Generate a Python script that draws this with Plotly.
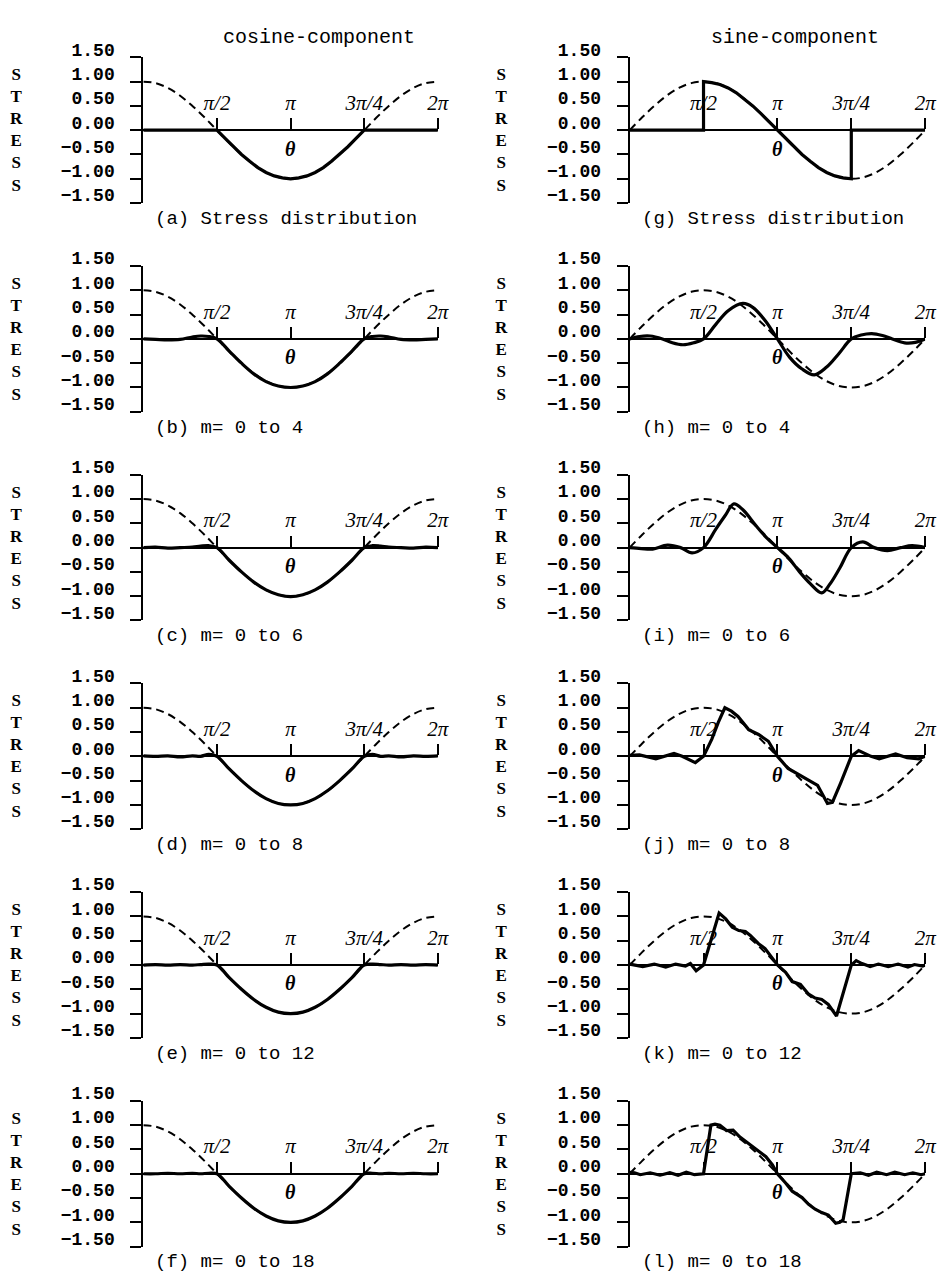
import plotly.graph_objects as go

# ---------------- data ----------------
XTICK_VALS = [90, 180, 270, 360]
XTICK_TEXT = ["π/2", "π", "3π/4", "2π"]
YTICK_VALS = [-1.5, -1.0, -0.5, 0.0, 0.5, 1.0, 1.5]
YTICK_TEXT = ["−1.50", "−1.00", "−0.50", "0.00", "0.50", "1.00", "1.50"]

TITLES = ["cosine-component", "sine-component"]
CAPTIONS_COS = ["(a) Stress distribution", "(b) m= 0 to 4", "(c) m= 0 to 6",
                "(d) m= 0 to 8", "(e) m= 0 to 12", "(f) m= 0 to 18"]
CAPTIONS_SIN = ["(g) Stress distribution", "(h) m= 0 to 4", "(i) m= 0 to 6",
                "(j) m= 0 to 8", "(k) m= 0 to 12", "(l) m= 0 to 18"]

# dashed reference curves (degrees)
THETA_REF = [0, 15, 30, 45, 60, 75, 90, 105, 120, 135, 150, 165, 180,
             195, 210, 225, 240, 255, 270, 285, 300, 315, 330, 345, 360]
COS_REF = [1.00, 0.97, 0.87, 0.71, 0.50, 0.26, 0.00, -0.26, -0.50, -0.71, -0.87, -0.97, -1.00,
           -0.97, -0.87, -0.71, -0.50, -0.26, 0.00, 0.26, 0.50, 0.71, 0.87, 0.97, 1.00]
SIN_REF = [0.00, 0.26, 0.50, 0.71, 0.87, 0.97, 1.00, 0.97, 0.87, 0.71, 0.50, 0.26, 0.00,
           -0.26, -0.50, -0.71, -0.87, -0.97, -1.00, -0.97, -0.87, -0.71, -0.50, -0.26, 0.00]

# cosine component
COS_A_X = [0, 90, 100, 110, 120, 130, 140, 150, 160, 170, 180, 190, 200,
           210, 220, 230, 240, 250, 260, 270, 360]
COS_A_Y = [0.00, 0.00, -0.17, -0.34, -0.50, -0.64, -0.77, -0.87, -0.94, -0.98, -1.00, -0.98, -0.94,
           -0.87, -0.77, -0.64, -0.50, -0.34, -0.17, 0.00, 0.00]

THETA_C = [0, 15, 30, 45, 60, 70, 80, 90, 105, 120, 135, 150, 165, 180,
           195, 210, 225, 240, 255, 270, 280, 290, 300, 315, 330, 345, 360]
COS_B = [0.00, -0.01, -0.02, -0.01, 0.04, 0.06, 0.05, 0.00, -0.25, -0.50, -0.72, -0.88, -0.97, -1.00,
         -0.97, -0.88, -0.72, -0.50, -0.25, 0.00, 0.05, 0.06, 0.04, -0.01, -0.02, -0.01, 0.00]
COS_C = [0.00, 0.01, -0.01, 0.00, 0.01, 0.03, 0.04, 0.00, -0.26, -0.50, -0.71, -0.87, -0.97, -1.01,
         -0.97, -0.87, -0.71, -0.50, -0.26, 0.00, 0.04, 0.03, 0.01, 0.00, -0.01, 0.01, 0.00]
COS_D = [0.01, 0.00, 0.01, -0.01, 0.01, 0.00, 0.04, 0.00, -0.26, -0.50, -0.71, -0.87, -0.97, -1.00,
         -0.97, -0.87, -0.71, -0.50, -0.26, 0.00, 0.04, 0.00, 0.01, -0.01, 0.01, 0.00, 0.01]
COS_E = [0.00, 0.01, 0.00, 0.01, 0.00, 0.01, 0.02, 0.00, -0.26, -0.50, -0.71, -0.87, -0.97, -1.00,
         -0.97, -0.87, -0.71, -0.50, -0.26, 0.00, 0.02, 0.01, 0.00, 0.01, 0.00, 0.01, 0.00]
COS_F = [0.00, 0.00, 0.01, 0.00, 0.01, 0.00, 0.01, 0.00, -0.26, -0.50, -0.71, -0.87, -0.97, -1.00,
         -0.97, -0.87, -0.71, -0.50, -0.26, 0.00, 0.01, 0.00, 0.01, 0.00, 0.01, 0.00, 0.00]

# sine component
SIN_G_X = [0, 90, 90, 100, 110, 120, 130, 140, 150, 160, 170, 180, 190, 200,
           210, 220, 230, 240, 250, 260, 270, 270, 360]
SIN_G_Y = [0.00, 0.00, 1.00, 0.98, 0.94, 0.87, 0.77, 0.64, 0.50, 0.34, 0.17, 0.00, -0.17, -0.34,
           -0.50, -0.64, -0.77, -0.87, -0.94, -0.98, -1.00, 0.00, 0.00]

SIN_H_X = [0, 12, 25, 40, 52, 65, 78, 90, 105, 120, 138, 150, 165, 180,
           195, 210, 225, 240, 255, 270, 282, 295, 308, 320, 335, 348, 360]
SIN_H_Y = [0.00, 0.05, 0.06, 0.00, -0.08, -0.12, -0.08, 0.00, 0.30, 0.58, 0.73, 0.65, 0.38, 0.00,
           -0.38, -0.62, -0.74, -0.58, -0.30, 0.00, 0.08, 0.11, 0.07, 0.00, -0.08, -0.07, 0.00]

SIN_I_X = [0, 14, 28, 46, 62, 76, 90, 105, 116, 127, 138, 153, 167, 180,
           194, 207, 220, 234, 244, 256, 270, 284, 298, 314, 330, 344, 360]
SIN_I_Y = [0.00, -0.02, -0.03, 0.05, 0.00, -0.11, 0.00, 0.38, 0.65, 0.90, 0.78, 0.47, 0.20, 0.00,
           -0.22, -0.50, -0.74, -0.93, -0.75, -0.42, 0.00, 0.12, 0.00, -0.06, 0.00, 0.04, 0.00]

SIN_J_X = [0, 12, 32, 54, 64, 80, 90, 100, 108, 116, 124, 132, 145, 157, 169, 180,
           193, 209, 221, 229, 241, 247, 257, 270, 279, 294, 304, 324, 338, 352, 360]
SIN_J_Y = [0.02, 0.03, -0.05, 0.06, 0.00, -0.13, 0.00, 0.35, 0.70, 1.00, 0.93, 0.82, 0.55, 0.45, 0.31, 0.00,
           -0.25, -0.40, -0.52, -0.60, -0.97, -0.95, -0.55, 0.00, 0.12, 0.00, -0.05, 0.05, -0.03, -0.05, 0.00]

SIN_K_X = [0, 8, 16, 30, 44, 56, 68, 74, 81, 90, 109, 117, 125, 133, 141, 147, 157, 165, 173, 180,
           190, 198, 208, 218, 226, 234, 242, 252, 270, 276, 283, 293, 303, 315, 327, 339, 347, 357, 360]
SIN_K_Y = [0.02, 0.00, -0.03, 0.02, -0.04, 0.02, -0.02, 0.03, -0.12, 0.00, 1.07, 0.95, 0.78, 0.71, 0.69,
           0.61, 0.44, 0.34, 0.17, 0.00, -0.15, -0.34, -0.40, -0.60, -0.68, -0.71, -0.81, -1.05, 0.00,
           0.09, 0.03, -0.03, 0.02, -0.03, 0.02, -0.04, 0.01, -0.02, 0.00]

SIN_L_X = [0, 6, 13, 25, 37, 49, 59, 69, 79, 90, 99, 104, 110, 118, 126, 134, 142, 150, 158, 166, 174, 180,
           190, 198, 210, 218, 226, 234, 242, 251, 256, 260, 270, 281, 291, 301, 313, 323, 335, 345, 355, 360]
SIN_L_Y = [0.03, 0.02, -0.02, 0.02, -0.03, 0.02, -0.03, 0.03, -0.02, 0.00, 1.00, 1.02, 1.00, 0.89, 0.90,
           0.76, 0.66, 0.55, 0.45, 0.35, 0.18, 0.00, -0.19, -0.36, -0.49, -0.63, -0.73, -0.80, -0.85,
           -1.02, -1.00, -0.95, 0.00, 0.02, -0.03, 0.03, -0.02, 0.03, -0.02, 0.02, -0.02, 0.00]

# ---------------- layout constants ----------------
W, H = 951, 1287
COL_PX = [(145, 443), (637, 936)]
STRESS_X = [17, 507]
TITLE_X = [323, 804]
ROW_TOP0, ROW_STEP, PLOT_H = 41, 212, 148
CAPTION_GAP = 16

panels = [
    (COS_A_X, COS_A_Y, "linear", COS_REF),
    (THETA_C, COS_B, "spline", COS_REF),
    (THETA_C, COS_C, "spline", COS_REF),
    (THETA_C, COS_D, "spline", COS_REF),
    (THETA_C, COS_E, "spline", COS_REF),
    (THETA_C, COS_F, "spline", COS_REF),
    (SIN_G_X, SIN_G_Y, "linear", SIN_REF),
    (SIN_H_X, SIN_H_Y, "spline", SIN_REF),
    (SIN_I_X, SIN_I_Y, "spline", SIN_REF),
    (SIN_J_X, SIN_J_Y, "linear", SIN_REF),
    (SIN_K_X, SIN_K_Y, "linear", SIN_REF),
    (SIN_L_X, SIN_L_Y, "linear", SIN_REF),
]
captions = CAPTIONS_COS + CAPTIONS_SIN

fig = go.Figure()
annotations = []
layout_axes = {}

for i, (px, py, shape, ref) in enumerate(panels):
    col, row = (0 if i < 6 else 1), i % 6
    n = i + 1
    xn = "x" if n == 1 else f"x{n}"
    yn = "y" if n == 1 else f"y{n}"
    top = ROW_TOP0 + row * ROW_STEP
    bot = top + PLOT_H
    ymid = 1 - (top + PLOT_H / 2) / H
    x0, x1 = COL_PX[col]

    fig.add_trace(go.Scatter(
        x=THETA_REF, y=ref, mode="lines", xaxis=xn, yaxis=yn,
        line=dict(color="black", width=2, dash="8px,5px", shape="spline"),
        hoverinfo="skip", showlegend=False))
    fig.add_trace(go.Scatter(
        x=px, y=py, mode="lines", xaxis=xn, yaxis=yn,
        line=dict(color="black", width=3.2, shape=shape),
        hoverinfo="skip", showlegend=False))

    layout_axes["xaxis" if n == 1 else f"xaxis{n}"] = dict(
        domain=[x0 / W, x1 / W], range=[0, 360], anchor="free", position=ymid,
        side="top", showline=True, linecolor="black", linewidth=2,
        ticks="outside", ticklen=11, tickwidth=2, tickcolor="black",
        tickmode="array", tickvals=XTICK_VALS, ticktext=XTICK_TEXT,
        tickfont=dict(family="Liberation Serif", size=21, color="black", style="italic"),
        showgrid=False, zeroline=False, fixedrange=True)
    layout_axes["yaxis" if n == 1 else f"yaxis{n}"] = dict(
        domain=[1 - bot / H, 1 - top / H], range=[-1.5, 1.5], anchor=xn, side="left",
        showline=True, linecolor="black", linewidth=2,
        ticks="outside", ticklen=11, tickwidth=2, tickcolor="black",
        tickmode="array", tickvals=YTICK_VALS, ticktext=YTICK_TEXT,
        tickfont=dict(family="Liberation Mono", size=18, color="black", weight="bold"),
        ticklabelstandoff=12, ticklabelshift=-8,
        showgrid=False, zeroline=False, fixedrange=True)

    annotations.append(dict(
        x=180, y=-0.38, xref=xn, yref=yn, text="<b><i>θ</i></b>", showarrow=False,
        font=dict(family="Liberation Serif", size=20, color="black")))
    annotations.append(dict(
        x=STRESS_X[col] / W, y=ymid, xref="paper", yref="paper",
        text="S<br>T<br>R<br>E<br>S<br>S", showarrow=False,
        xanchor="center", yanchor="middle",
        font=dict(family="Liberation Serif", size=17, color="black", weight="bold")))
    annotations.append(dict(
        x=(x0 + 10) / W, y=1 - (bot + CAPTION_GAP) / H, xref="paper", yref="paper",
        text=captions[i], showarrow=False, xanchor="left", yanchor="middle",
        font=dict(family="Liberation Mono", size=19, color="black")))

for c in range(2):
    annotations.append(dict(
        x=TITLE_X[c] / W, y=1 - 21 / H, xref="paper", yref="paper",
        text=TITLES[c], showarrow=False, xanchor="center", yanchor="middle",
        font=dict(family="Liberation Mono", size=20, color="black")))

fig.update_layout(
    width=W, height=H, autosize=False,
    margin=dict(l=0, r=0, t=0, b=0),
    paper_bgcolor="white", plot_bgcolor="white",
    showlegend=False, annotations=annotations, **layout_axes)

fig.write_html("out.html", config={"displayModeBar": False},
               post_script="document.body.style.margin='0px';document.body.style.overflow='hidden';")
